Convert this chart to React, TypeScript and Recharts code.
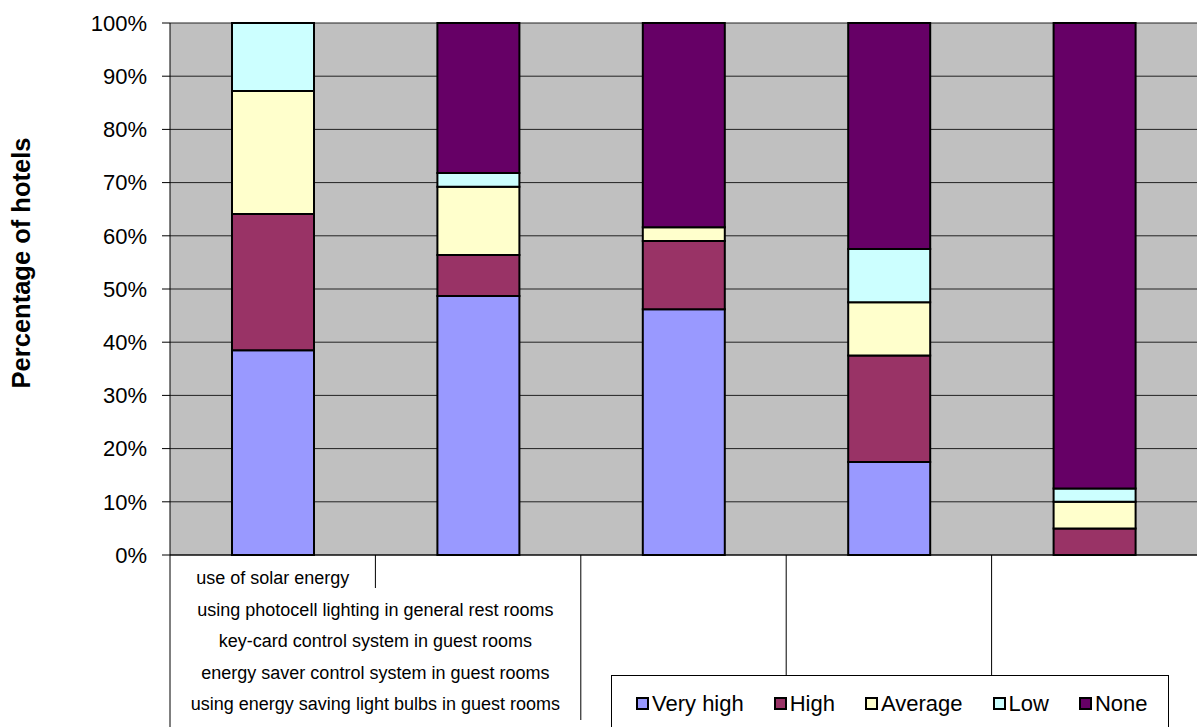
import { Bar, BarChart, CartesianGrid, Label, Legend, XAxis, YAxis } from "recharts"

const categories = [
  "use of solar energy",
  "using photocell lighting in general rest rooms",
  "key-card control system in guest rooms",
  "energy saver control system in guest rooms",
  "using energy saving light bulbs in guest rooms",
]

const veryHigh = [38.5, 48.7, 46.2, 17.5, 0]
const high = [25.6, 7.7, 12.8, 20, 5]
const average = [23.1, 12.8, 2.6, 10, 5]
const low = [12.8, 2.6, 0, 10, 2.5]
const none = [0, 28.2, 38.4, 42.5, 87.5]

const yTicks = [0, 10, 20, 30, 40, 50, 60, 70, 80, 90, 100]

const series = [
  { key: "veryHigh", name: "Very high", color: "#9999FF" },
  { key: "high", name: "High", color: "#993366" },
  { key: "average", name: "Average", color: "#FFFFCC" },
  { key: "low", name: "Low", color: "#CCFFFF" },
  { key: "none", name: "None", color: "#660066" },
]

const data = categories.map((name, i) => ({
  name,
  veryHigh: veryHigh[i],
  high: high[i],
  average: average[i],
  low: low[i],
  none: none[i],
}))

const W = 1197
const H = 727
const AXIS_X = 170
const AXIS_Y = 555
const PLOT_W = W - AXIS_X
const FONT = "Arial, 'Liberation Sans', sans-serif"

// Excel-style staggered category labels with divider lines
function CategoryTick(props: any) {
  const { x, index, payload } = props
  const band = PLOT_W / categories.length
  const first = x - index * band
  const left = x - band / 2
  const cx = index === 0 ? first : first + band / 2
  const ty = 578 + index * 31.6
  const lineEnd = index === 0 ? H : index === 1 ? 588 : 720
  return (
    <g>
      <line x1={left} x2={left} y1={AXIS_Y} y2={lineEnd} stroke="#000" strokeWidth={1} />
      <text
        x={cx}
        y={ty}
        textAnchor="middle"
        dominantBaseline="central"
        fontSize={18}
        fontFamily={FONT}
        fill="#000"
      >
        {payload.value}
      </text>
    </g>
  )
}

// legend follows the series order, not the alphabetical one
function LegendBox() {
  return (
    <div
      style={{
        display: "flex",
        alignItems: "center",
        height: "100%",
        paddingLeft: 24,
        boxSizing: "border-box",
        fontFamily: FONT,
        fontSize: 22,
        color: "#000",
        whiteSpace: "nowrap",
      }}
    >
      {series.map((s, i) => (
        <div
          key={s.key}
          style={{
            display: "flex",
            alignItems: "center",
            flexShrink: 0,
            marginRight: i === series.length - 1 ? 0 : 30,
          }}
        >
          <span
            style={{
              display: "inline-block",
              width: 9,
              height: 9,
              border: "2px solid #000",
              background: s.color,
              marginRight: 3,
            }}
          />
          <span style={{ lineHeight: "22px" }}>{s.name}</span>
        </div>
      ))}
    </div>
  )
}

export default function App() {
  return (
    <div style={{ position: "absolute", left: 0, top: 0, width: W, height: H, overflow: "hidden", background: "#fff" }}>
      <BarChart width={W} height={H} data={data} margin={{ top: 23, right: 0, bottom: 0, left: 0 }}>
        <CartesianGrid vertical={false} fill="#C0C0C0" stroke="#222" strokeOpacity={1} />
        <XAxis
          dataKey="name"
          height={H - AXIS_Y}
          axisLine={{ stroke: "#000" }}
          tickLine={false}
          interval={0}
          tick={<CategoryTick />}
        />
        <YAxis
          width={AXIS_X}
          domain={[0, 100]}
          ticks={yTicks}
          tickFormatter={(v: number) => `${v}%`}
          axisLine={{ stroke: "#000" }}
          tickLine={{ stroke: "#000" }}
          tickSize={8}
          tickMargin={15}
          tick={{ fontSize: 22, fontFamily: FONT, fill: "#000" }}
        >
          <Label
            content={() => (
              <text
                x={21}
                y={263}
                transform="rotate(-90, 21, 263)"
                textAnchor="middle"
                dominantBaseline="central"
                fontSize={25.5}
                fontWeight="bold"
                fontFamily={FONT}
                fill="#000"
              >
                Percentage of hotels
              </text>
            )}
          />
        </YAxis>
        <Legend
          layout="horizontal"
          verticalAlign="middle"
          align="center"
          content={<LegendBox />}
          wrapperStyle={{
            left: 611,
            top: 675,
            width: 558,
            height: 56,
            border: "1px solid #000",
            borderBottom: "none",
            background: "#fff",
            boxSizing: "border-box",
          }}
        />
        {series.map((s) => (
          <Bar
            key={s.key}
            dataKey={s.key}
            name={s.name}
            stackId="a"
            fill={s.color}
            stroke="#000"
            strokeWidth={2}
            barSize={82}
            isAnimationActive={false}
          />
        ))}
      </BarChart>
    </div>
  )
}
